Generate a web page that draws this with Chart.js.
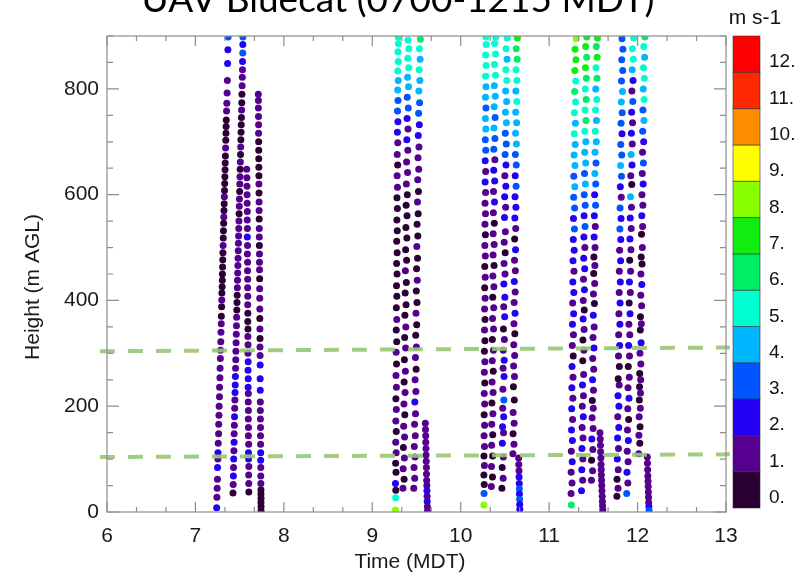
<!DOCTYPE html>
<html>
<head>
<meta charset="utf-8">
<title>UAV Bluecat wind speed</title>
<script src="https://cdn.jsdelivr.net/npm/chart.js@4/dist/chart.umd.min.js"></script>
<style>
  html, body { margin: 0; padding: 0; background: #fff; }
  #wrap { width: 808px; height: 577px; position: relative; }
</style>
</head>
<body>
<div id="wrap"><canvas id="chart" width="808" height="577"></canvas></div>
<script>
// Chart texts
const chartTitle = 'UAV Bluecat (0700-1215 MDT)';
const xTitle = 'Time (MDT)';
const yTitle = 'Height (m AGL)';
const unitLabel = 'm s-1';

// Axis ticks
const xTicks = [6, 7, 8, 9, 10, 11, 12, 13];
const yTicks = [0, 200, 400, 600, 800];

// Colour bar: one block per 1 m/s class
const barLabels = ['0.', '1.', '2.', '3.', '4.', '5.', '6.', '7.', '8.', '9.', '10.', '11.', '12.'];
const barColors = ['#2b0035', '#55008f', '#2400f5', '#0055ff', '#00b6ff', '#00ffd0', '#00ee66', '#10ee10', '#88ff00', '#ffff00', '#ff8c00', '#ff2800', '#ff0000'];

// Reference heights (m AGL) of the dashed lines, at start and end time
const refLineTimes = [5.92, 13.045];
const upperLine = [304, 311];
const lowerLine = [104, 109];

// Profiles: [time (h MDT), height (m AGL), wind speed (m/s)]
// Flight 1
const f1a = [[7.240,8,2.3],[7.243,28,1.4],[7.246,45,1.2],[7.249,62,1.6],[7.250,84,2.4],[7.254,100,1.3],[7.255,112,2.2],[7.258,130,1.4],[7.262,148,1.1],[7.263,166,1.5],[7.266,183,1.3],[7.268,200,1.6],[7.272,218,1.2],[7.273,236,1.4],[7.277,254,1.1],[7.279,272,1.5],[7.282,290,1.3],[7.284,306,1.2],[7.287,322,1.6],[7.289,340,1.4],[7.292,356,1.1],[7.293,370,0.6],[7.296,388,0.4],[7.298,401,1.2],[7.299,414,0.5],[7.302,426,0.3],[7.304,438,0.6],[7.305,450,0.7],[7.307,463,0.5],[7.309,477,0.2],[7.311,490,0.7],[7.313,504,1.3],[7.315,518,0.4],[7.317,532,0.6],[7.319,546,0.3],[7.321,558,1.2],[7.323,570,0.5],[7.325,583,0.4],[7.327,596,1.1],[7.329,608,0.4],[7.331,621,0.6],[7.333,634,0.2],[7.335,647,0.6],[7.337,660,0.8],[7.339,673,0.5],[7.341,688,1.2],[7.343,703,0.5],[7.345,716,0.3],[7.347,729,0.6],[7.349,741,0.4],[7.352,758,1.2],[7.355,773,1.3],[7.358,792,1.5],[7.361,816,1.8],[7.364,848,2.5],[7.367,874,2.8],[7.370,898,3.2]];
const f1b = [[7.425,36,0.4],[7.427,52,1.5],[7.429,68,2.3],[7.431,84,1.4],[7.433,100,2.2],[7.435,116,1.3],[7.437,132,2.4],[7.438,148,1.5],[7.440,164,1.2],[7.442,180,2.1],[7.444,196,1.4],[7.446,212,1.6],[7.448,226,2.3],[7.450,240,2.5],[7.452,256,2.2],[7.454,272,1.5],[7.456,288,1.3],[7.458,304,1.6],[7.460,320,1.2],[7.462,336,1.4],[7.464,352,1.5],[7.466,368,1.1],[7.468,382,0.5],[7.470,396,0.4],[7.472,410,0.6],[7.474,424,1.3],[7.476,438,1.5],[7.478,452,1.2],[7.480,466,1.4],[7.482,480,1.1],[7.484,494,1.3],[7.486,508,1.6],[7.488,522,1.2],[7.490,536,1.4],[7.492,550,1.3],[7.494,564,0.6],[7.496,578,1.4],[7.498,592,1.2],[7.500,606,0.5],[7.502,620,1.3],[7.504,634,1.1],[7.506,648,0.4],[7.508,662,1.3],[7.510,676,0.6],[7.512,690,1.2],[7.514,704,0.3],[7.516,718,0.5],[7.518,732,0.2],[7.520,746,0.6],[7.522,760,1.1],[7.524,774,0.4],[7.526,790,0.6],[7.528,806,1.4],[7.530,822,1.2],[7.532,836,1.6],[7.533,852,2.5],[7.535,868,3.3],[7.536,884,2.7],[7.537,898,3.4]];
const f1c = [[7.604,38,0.4],[7.603,54,1.3],[7.602,70,1.5],[7.604,86,1.2],[7.601,100,2.4],[7.600,112,2.2],[7.602,128,1.4],[7.599,144,1.3],[7.600,160,1.6],[7.598,176,1.2],[7.599,192,1.4],[7.597,208,1.5],[7.598,224,1.3],[7.596,236,2.3],[7.597,252,2.6],[7.595,268,2.2],[7.596,284,2.4],[7.594,300,1.3],[7.595,316,1.2],[7.593,332,1.5],[7.594,346,0.5],[7.592,360,0.4],[7.593,376,0.6],[7.591,392,1.3],[7.592,408,1.4],[7.590,424,1.2],[7.591,440,1.5],[7.589,456,1.3],[7.590,472,1.1],[7.588,488,1.4],[7.589,504,1.2],[7.587,520,2.3],[7.588,536,1.3],[7.586,552,1.5],[7.587,568,1.2],[7.585,584,1.4],[7.584,600,1.3],[7.583,616,1.1],[7.582,632,1.5],[7.580,648,1.2]];
const f1d = [[7.742,2,0.3],[7.742,10,0.5],[7.741,18,0.2],[7.742,26,0.4],[7.741,34,0.6],[7.741,42,0.3],[7.740,54,1.2],[7.739,68,1.4],[7.739,84,1.3],[7.738,98,2.4],[7.738,112,2.6],[7.737,128,1.5],[7.736,144,1.2],[7.736,160,1.4],[7.735,176,1.3],[7.734,192,1.6],[7.734,208,1.2],[7.733,230,2.4],[7.732,252,2.2],[7.732,278,2.5],[7.731,296,1.4],[7.730,312,1.2],[7.730,328,0.4],[7.729,346,1.3],[7.728,366,0.5],[7.728,384,1.4],[7.727,404,1.2],[7.726,422,1.5],[7.726,441,0.3],[7.725,458,1.3],[7.724,472,1.1],[7.724,488,1.4],[7.723,504,0.5],[7.722,520,1.2],[7.722,536,1.4],[7.721,554,0.4],[7.720,570,1.3],[7.720,586,1.1],[7.719,603,0.5],[7.718,620,1.2],[7.718,636,0.6],[7.717,652,0.3],[7.716,668,0.5],[7.716,684,0.2],[7.715,700,0.6],[7.714,716,1.3],[7.714,732,1.2],[7.713,748,1.5],[7.712,764,1.3],[7.712,778,1.4],[7.711,790,1.2]];
// Flight 2
const f2a = [[9.262,4,8.3],[9.264,27,5.2],[9.266,41,0.4],[9.262,54,2.6],[9.268,75,0.5],[9.264,92,0.3],[9.270,112,1.3],[9.265,132,1.2],[9.271,152,0.6],[9.266,172,1.4],[9.272,194,1.2],[9.267,214,0.5],[9.273,236,1.3],[9.268,258,1.1],[9.274,280,0.4],[9.270,302,1.2],[9.276,322,0.6],[9.271,344,0.3],[9.277,364,1.3],[9.272,386,0.2],[9.278,408,0.4],[9.274,428,0.3],[9.280,450,0.5],[9.275,470,0.2],[9.281,490,0.4],[9.276,512,0.3],[9.282,532,0.6],[9.278,552,0.2],[9.284,574,0.4],[9.279,594,0.5],[9.285,614,1.2],[9.281,636,1.3],[9.287,656,0.6],[9.282,676,1.4],[9.288,698,1.5],[9.284,718,2.6],[9.290,738,2.4],[9.285,758,3.3],[9.291,778,3.6],[9.287,798,4.2],[9.293,816,4.6],[9.288,834,5.3],[9.294,852,5.1],[9.290,870,5.5],[9.295,886,5.2],[9.292,898,5.4]];
const f2b = [[9.347,45,1.3],[9.360,62,0.4],[9.349,82,1.2],[9.363,102,1.4],[9.352,122,0.5],[9.365,142,1.3],[9.355,162,1.1],[9.368,184,0.6],[9.358,204,1.2],[9.371,226,1.4],[9.360,246,0.4],[9.374,266,1.3],[9.363,288,0.5],[9.377,310,1.2],[9.366,330,0.3],[9.379,350,1.1],[9.369,372,0.4],[9.382,392,0.2],[9.372,414,0.5],[9.385,434,0.3],[9.374,456,1.2],[9.388,476,0.4],[9.377,496,0.2],[9.391,518,0.5],[9.380,538,0.3],[9.393,560,0.6],[9.383,580,0.2],[9.396,600,0.4],[9.385,620,1.3],[9.399,642,1.2],[9.388,662,1.4],[9.402,684,1.1],[9.391,704,2.2],[9.404,724,1.5],[9.394,744,2.6],[9.407,764,3.2],[9.396,784,3.4],[9.410,804,4.3],[9.399,822,4.5],[9.412,840,5.2],[9.401,858,5.4],[9.414,876,5.1],[9.404,892,5.6]];
const f2c = [[9.469,45,1.3],[9.480,64,1.5],[9.472,84,1.2],[9.483,104,1.4],[9.475,124,1.3],[9.486,144,1.1],[9.478,166,1.2],[9.489,186,1.4],[9.481,208,2.3],[9.493,228,1.3],[9.484,250,1.2],[9.496,270,0.5],[9.488,292,1.4],[9.499,312,1.1],[9.491,334,0.4],[9.502,354,0.6],[9.494,376,1.2],[9.506,396,0.3],[9.498,418,0.5],[9.509,438,1.3],[9.501,460,0.4],[9.512,480,0.2],[9.504,502,1.1],[9.515,522,0.3],[9.507,544,0.5],[9.519,564,0.4],[9.511,586,1.2],[9.522,606,0.6],[9.514,628,1.4],[9.525,648,1.2],[9.517,670,1.5],[9.528,690,1.3],[9.520,712,2.2],[9.532,732,2.6],[9.524,754,3.4],[9.535,774,3.1],[9.527,796,4.2],[9.538,816,4.6],[9.530,836,5.1],[9.541,856,4.8],[9.533,876,5.3],[9.544,894,6.1]];
const f2d = [[9.600,168,1.3],[9.602,156,1.2],[9.604,144,1.5],[9.605,132,1.3],[9.607,120,1.4],[9.608,108,1.2],[9.610,96,1.6],[9.612,84,1.3],[9.613,72,1.2],[9.615,60,1.4],[9.617,50,1.3],[9.618,40,2.3],[9.620,30,1.4],[9.621,20,2.5],[9.623,10,1.3],[9.625,2,1.2]];
// Flight 3
const f3a = [[10.262,13,8.2],[10.264,35,3.1],[10.266,52,0.4],[10.262,70,0.3],[10.268,88,1.2],[10.263,106,0.5],[10.269,124,1.3],[10.264,144,1.1],[10.270,164,1.4],[10.265,184,0.5],[10.271,204,1.2],[10.266,224,1.3],[10.272,244,0.4],[10.267,264,1.4],[10.273,284,1.2],[10.268,304,0.3],[10.274,324,0.5],[10.269,344,1.3],[10.275,364,0.4],[10.270,384,1.2],[10.276,404,1.4],[10.271,424,0.6],[10.277,444,1.3],[10.272,464,0.5],[10.278,484,1.2],[10.273,504,1.4],[10.279,524,0.6],[10.274,544,1.3],[10.280,564,1.5],[10.275,584,1.2],[10.281,604,1.4],[10.276,624,2.3],[10.282,644,1.5],[10.277,664,2.4],[10.283,684,3.2],[10.278,704,3.5],[10.284,724,4.2],[10.279,744,4.4],[10.285,764,3.6],[10.280,784,4.3],[10.286,804,4.7],[10.281,824,5.2],[10.287,844,5.4],[10.282,864,5.3],[10.288,884,5.1],[10.284,898,5.5]];
const f3b = [[10.346,48,1.3],[10.359,66,0.4],[10.348,86,1.2],[10.361,106,0.5],[10.350,126,1.4],[10.362,146,0.3],[10.351,166,1.2],[10.364,186,1.3],[10.353,206,0.4],[10.366,226,1.1],[10.355,246,1.4],[10.368,266,0.5],[10.357,286,1.2],[10.370,306,1.3],[10.358,326,0.4],[10.371,346,1.2],[10.360,366,1.4],[10.373,386,1.3],[10.362,406,0.5],[10.375,426,1.2],[10.364,446,1.4],[10.377,466,0.4],[10.366,486,1.3],[10.378,506,1.1],[10.367,526,1.4],[10.380,546,0.6],[10.369,566,1.2],[10.382,586,2.3],[10.371,606,1.4],[10.384,626,2.2],[10.373,646,2.6],[10.386,666,1.5],[10.374,686,3.3],[10.387,706,3.4],[10.376,726,4.2],[10.389,746,3.7],[10.378,766,4.5],[10.391,786,4.3],[10.380,806,4.8],[10.393,826,5.2],[10.382,846,5.4],[10.394,866,5.1],[10.383,886,5.3],[10.396,898,5.5]];
const f3c = [[10.466,45,0.5],[10.480,64,1.3],[10.469,84,0.4],[10.482,104,1.2],[10.471,130,2.4],[10.484,150,1.3],[10.473,161,2.6],[10.486,180,2.3],[10.475,196,1.2],[10.488,212,3.1],[10.477,232,1.4],[10.490,256,2.5],[10.479,272,1.2],[10.492,287,2.3],[10.481,306,1.3],[10.494,326,1.5],[10.483,346,0.6],[10.497,369,2.2],[10.486,388,1.3],[10.499,406,2.4],[10.488,431,2.3],[10.501,450,1.2],[10.490,470,1.4],[10.503,490,0.4],[10.492,510,1.3],[10.505,530,1.5],[10.495,557,2.4],[10.508,576,1.3],[10.497,596,2.2],[10.510,616,2.5],[10.499,636,1.4],[10.512,656,2.6],[10.502,676,3.3],[10.515,696,3.2],[10.504,716,3.6],[10.517,736,4.3],[10.506,756,4.5],[10.519,776,4.1],[10.508,796,4.6],[10.521,816,5.2],[10.510,836,5.5],[10.524,856,4.7],[10.513,876,5.3],[10.526,896,5.4]];
const f3d = [[10.590,110,1.3],[10.602,128,1.2],[10.592,148,0.4],[10.604,168,1.4],[10.593,188,1.3],[10.606,212,0.3],[10.596,237,0.5],[10.608,256,1.2],[10.598,276,1.4],[10.610,296,1.3],[10.600,316,1.2],[10.612,337,0.4],[10.602,356,1.3],[10.614,376,2.2],[10.604,396,1.4],[10.616,416,1.2],[10.606,436,2.3],[10.618,456,1.3],[10.608,476,1.5],[10.620,496,2.2],[10.610,516,0.4],[10.622,536,1.3],[10.612,556,2.4],[10.624,576,2.2],[10.614,596,2.5],[10.626,616,3.2],[10.616,636,2.6],[10.628,656,3.4],[10.618,676,3.1],[10.630,696,4.2],[10.620,716,4.4],[10.632,736,4.6],[10.622,756,4.3],[10.634,776,5.2],[10.624,796,4.8],[10.636,816,5.3],[10.626,836,5.6],[10.638,856,6.2],[10.628,876,6.5],[10.640,896,7.1]];
const f3e = [[10.655,102,1.3],[10.657,90,1.4],[10.659,78,1.2],[10.660,66,2.3],[10.662,54,2.6],[10.663,44,3.2],[10.664,34,2.4],[10.666,24,3.1],[10.667,14,2.2],[10.668,5,2.5]];
// Flight 4
const f4a = [[11.251,13,6.4],[11.248,35,1.3],[11.259,55,1.2],[11.249,75,1.4],[11.261,95,2.3],[11.251,115,1.3],[11.263,135,2.2],[11.253,155,2.5],[11.265,175,1.2],[11.255,195,2.4],[11.268,215,1.3],[11.257,235,2.6],[11.270,255,1.4],[11.259,275,2.2],[11.272,295,0.5],[11.262,315,1.3],[11.275,335,1.2],[11.264,355,2.4],[11.277,375,2.3],[11.266,395,1.4],[11.279,415,2.2],[11.268,435,2.5],[11.281,455,1.3],[11.270,475,2.6],[11.283,495,2.4],[11.273,515,2.2],[11.286,535,3.3],[11.275,555,2.6],[11.288,575,3.4],[11.277,595,3.2],[11.290,615,4.3],[11.279,635,3.6],[11.292,655,4.4],[11.282,675,4.2],[11.295,695,4.6],[11.284,715,5.3],[11.297,735,4.8],[11.286,755,5.5],[11.299,775,5.2],[11.288,795,6.3],[11.301,815,5.6],[11.290,835,7.4],[11.303,855,7.2],[11.293,875,7.8],[11.306,895,8.2]];
const f4b = [[11.366,40,2.3],[11.379,60,1.4],[11.369,80,2.5],[11.381,100,1.3],[11.371,120,2.2],[11.383,140,1.5],[11.373,160,1.3],[11.386,180,2.4],[11.375,200,1.2],[11.388,220,1.4],[11.377,240,2.3],[11.390,260,1.3],[11.380,286,0.4],[11.393,306,1.2],[11.382,325,0.3],[11.395,345,1.4],[11.384,365,2.2],[11.397,382,0.5],[11.386,400,1.3],[11.399,420,2.4],[11.388,440,1.2],[11.402,460,2.6],[11.391,480,2.3],[11.404,500,1.4],[11.393,520,2.5],[11.406,540,3.2],[11.395,560,2.4],[11.408,580,3.3],[11.397,600,3.5],[11.410,620,4.2],[11.400,640,3.8],[11.413,660,4.4],[11.402,680,4.1],[11.415,700,4.7],[11.404,720,5.2],[11.417,740,6.1],[11.406,760,5.4],[11.419,780,6.6],[11.408,800,5.8],[11.421,820,6.4],[11.411,840,7.3],[11.424,860,6.9],[11.413,880,7.5],[11.426,898,7.2]];
const f4c = [[11.478,60,1.2],[11.491,78,1.4],[11.480,98,0.4],[11.494,118,1.3],[11.483,138,2.2],[11.497,158,1.3],[11.486,178,1.5],[11.499,196,1.2],[11.488,211,0.3],[11.501,230,1.4],[11.491,250,2.3],[11.504,270,1.3],[11.493,290,1.2],[11.507,310,2.4],[11.496,330,1.4],[11.509,350,1.3],[11.499,372,2.2],[11.512,394,0.4],[11.501,412,1.3],[11.515,432,1.5],[11.504,451,0.3],[11.517,466,1.4],[11.506,482,0.2],[11.519,500,1.3],[11.509,520,2.4],[11.522,540,1.2],[11.511,560,2.6],[11.525,580,3.2],[11.514,600,2.5],[11.527,620,3.4],[11.517,640,4.1],[11.530,660,3.3],[11.519,680,4.5],[11.533,700,4.3],[11.522,720,5.2],[11.535,740,4.6],[11.525,760,5.4],[11.538,780,5.1],[11.527,800,4.9],[11.541,820,6.2],[11.530,840,5.5],[11.543,860,7.1],[11.533,880,6.4],[11.546,896,7.3]];
const f4d = [[11.575,150,1.3],[11.578,138,1.2],[11.580,126,1.5],[11.582,114,1.3],[11.585,102,1.4],[11.587,90,1.2],[11.589,80,1.3],[11.591,70,1.6],[11.593,60,1.2],[11.595,50,1.4],[11.597,40,1.3],[11.600,30,1.2],[11.602,20,1.5],[11.604,12,1.3],[11.606,4,1.2]];
// Flight 5
const f5a = [[11.766,30,0.5],[11.779,45,1.3],[11.768,62,0.4],[11.781,80,1.2],[11.771,100,2.3],[11.784,120,1.4],[11.774,140,2.2],[11.787,160,2.5],[11.776,180,1.3],[11.789,200,2.4],[11.779,220,2.2],[11.792,240,1.3],[11.781,252,0.4],[11.794,275,0.3],[11.784,295,1.2],[11.797,315,2.3],[11.786,335,1.4],[11.800,355,2.2],[11.789,375,1.3],[11.802,395,2.4],[11.792,415,1.2],[11.805,435,2.3],[11.794,455,1.4],[11.808,475,2.5],[11.797,495,1.3],[11.810,515,2.6],[11.800,535,3.2],[11.813,555,2.4],[11.802,575,3.3],[11.816,595,1.4],[11.805,615,2.2],[11.818,635,3.4],[11.808,655,4.3],[11.821,675,3.2],[11.810,695,3.5],[11.824,715,2.4],[11.813,735,3.3],[11.826,755,3.1],[11.816,775,4.2],[11.829,795,4.4],[11.818,815,3.6],[11.832,835,3.2],[11.821,855,3.3],[11.834,875,3.4],[11.824,895,3.1]];
const f5b = [[11.877,35,3.2],[11.890,55,1.3],[11.880,75,2.4],[11.893,95,1.2],[11.883,115,1.4],[11.896,135,2.3],[11.886,155,1.3],[11.899,175,0.4],[11.889,195,1.2],[11.903,215,2.5],[11.892,235,1.3],[11.906,255,1.2],[11.895,275,0.3],[11.909,295,1.4],[11.899,315,2.2],[11.912,335,1.3],[11.902,355,1.2],[11.915,375,2.4],[11.905,395,0.5],[11.918,415,1.3],[11.908,435,2.3],[11.921,455,1.4],[11.911,476,0.3],[11.925,496,1.2],[11.914,516,2.6],[11.928,536,1.3],[11.917,556,2.4],[11.931,576,1.5],[11.920,596,4.2],[11.934,619,0.4],[11.923,636,1.3],[11.937,656,2.2],[11.927,676,4.3],[11.940,696,1.4],[11.930,716,2.5],[11.943,736,1.3],[11.933,756,2.4],[11.946,776,3.3],[11.936,796,1.5],[11.949,816,2.6],[11.939,836,4.4],[11.952,856,5.2],[11.942,876,5.4],[11.955,896,5.8]];
const f5c = [[12.013,110,1.3],[12.025,130,0.4],[12.015,145,1.2],[12.028,161,0.3],[12.018,180,1.4],[12.031,196,1.2],[12.020,212,0.5],[12.033,225,1.3],[12.022,237,0.2],[12.035,250,1.4],[12.024,262,0.4],[12.037,280,1.2],[12.027,300,1.3],[12.040,320,2.3],[12.031,344,0.4],[12.043,356,1.2],[12.033,369,0.3],[12.046,390,1.4],[12.036,410,1.3],[12.048,430,2.2],[12.038,450,1.2],[12.051,469,0.4],[12.041,482,0.3],[12.054,500,1.3],[12.045,525,0.5],[12.057,540,1.2],[12.048,560,2.3],[12.060,580,1.4],[12.050,600,1.2],[12.063,620,2.4],[12.053,640,1.3],[12.066,660,3.2],[12.056,680,1.5],[12.069,700,2.6],[12.058,720,3.4],[12.072,740,4.3],[12.061,760,3.3],[12.074,780,5.1],[12.064,800,4.6],[12.077,820,5.4],[12.067,840,5.2],[12.080,860,4.8],[12.070,880,5.6],[12.083,898,6.2]];
const f5d = [[12.110,104,1.3],[12.112,92,1.2],[12.114,80,1.4],[12.116,68,1.3],[12.118,58,1.5],[12.120,48,1.2],[12.122,38,1.4],[12.124,28,1.3],[12.126,18,1.2],[12.128,10,2.4],[12.130,3,3.2]];

const profiles = [f1a, f1b, f1c, f1d, f2a, f2b, f2c, f2d, f3a, f3b, f3c, f3d, f3e, f4a, f4b, f4c, f4d, f5a, f5b, f5c, f5d];

// Colour for a wind speed (one colour per 1 m/s class)
function speedColor(s) {
    const i = Math.max(0, Math.min(barColors.length - 1, Math.floor(s)));
    return barColors[i];
}

const sansFamily = 'Liberation Sans, Arial, sans-serif';
const tickFont = { family: sansFamily, size: 21 };
const frameColor = '#8e8e8e';
const textColor = '#1a1a1a';
const dashColor = 'rgba(150, 200, 115, 0.9)';

// Dashed reference lines go first so they are drawn on top of the dots
const datasets = [
    {
        type: 'line',
        data: refLineTimes.map((t, i) => ({ x: t, y: upperLine[i] })),
        borderColor: dashColor, borderWidth: 4, borderDash: [15, 13],
        pointRadius: 0, clip: false
    },
    {
        type: 'line',
        data: refLineTimes.map((t, i) => ({ x: t, y: lowerLine[i] })),
        borderColor: dashColor, borderWidth: 4, borderDash: [15, 13],
        pointRadius: 0, clip: false
    }
];
profiles.forEach(p => {
    datasets.push({
        data: p.map(r => ({ x: r[0], y: r[1], s: r[2] })),
        pointRadius: 3.5,
        pointBorderWidth: 0,
        pointBackgroundColor: ctx => speedColor(ctx.raw ? ctx.raw.s : 0)
    });
});

// Frame with inward ticks on all four sides, titles and the colour bar
const framePlugin = {
    id: 'frame',
    afterDatasetsDraw(chart) {
        const { ctx, chartArea: a, scales: { x, y } } = chart;
        ctx.save();
        ctx.strokeStyle = frameColor;
        ctx.lineWidth = 1.2;
        ctx.strokeRect(a.left, a.top, a.right - a.left, a.bottom - a.top);
        ctx.beginPath();
        for (let i = 0; i < xTicks.length; i++) {
            const px = x.getPixelForValue(xTicks[i]);
            ctx.moveTo(px, a.bottom); ctx.lineTo(px, a.bottom - 10);
            ctx.moveTo(px, a.top); ctx.lineTo(px, a.top + 10);
            if (i < xTicks.length - 1) {
                for (let k = 1; k < 3; k++) {
                    const mx = x.getPixelForValue(xTicks[i] + k / 3);
                    ctx.moveTo(mx, a.bottom); ctx.lineTo(mx, a.bottom - 5);
                    ctx.moveTo(mx, a.top); ctx.lineTo(mx, a.top + 5);
                }
            }
        }
        for (let v = 0; v <= y.max; v += 50) {
            const py = y.getPixelForValue(v);
            const len = yTicks.includes(v) ? 12 : 6;
            ctx.moveTo(a.left, py); ctx.lineTo(a.left + len, py);
            ctx.moveTo(a.right, py); ctx.lineTo(a.right - len, py);
        }
        ctx.stroke();
        ctx.restore();
    },
    afterDraw(chart) {
        const { ctx, chartArea: a } = chart;
        ctx.save();
        // title, cut off by the top edge as in the original
        ctx.fillStyle = '#000';
        ctx.font = '37px Lato, "Open Sans", sans-serif';
        ctx.textAlign = 'center';
        ctx.textBaseline = 'alphabetic';
        ctx.fillText(chartTitle, 398, 12);

        // axis titles
        ctx.fillStyle = textColor;
        ctx.font = '21px ' + sansFamily;
        ctx.textBaseline = 'middle';
        ctx.fillText(xTitle, 410, 562);
        ctx.save();
        ctx.translate(33, 287);
        ctx.rotate(-Math.PI / 2);
        ctx.fillText(yTitle, 0, 0);
        ctx.restore();

        // colour bar
        const bx = 733, bw = 27;
        const bh = (a.bottom - 4 - a.top) / barColors.length;
        for (let i = 0; i < barColors.length; i++) {
            const by = a.bottom - 4 - (i + 1) * bh;
            ctx.fillStyle = barColors[i];
            ctx.fillRect(bx, by, bw, bh);
            ctx.strokeStyle = 'rgba(40,40,40,0.55)';
            ctx.lineWidth = 1;
            ctx.strokeRect(bx, by, bw, bh);
        }
        ctx.fillStyle = '#111';
        ctx.font = '19px ' + sansFamily;
        ctx.textAlign = 'left';
        ctx.textBaseline = 'middle';
        for (let i = 0; i < barLabels.length; i++) {
            const cy = a.bottom - 4 - (i + 0.5) * bh + 8;
            ctx.fillText(barLabels[i], bx + 36, cy);
        }
        ctx.font = '21px ' + sansFamily;
        ctx.textAlign = 'center';
        ctx.textBaseline = 'alphabetic';
        ctx.fillText(unitLabel, bx + 22, 24);
        ctx.restore();
    }
};

new Chart(document.getElementById('chart'), {
    type: 'scatter',
    data: { datasets: datasets },
    options: {
        responsive: false,
        animation: false,
        events: [],
        layout: { padding: { left: 0, right: 82, top: 36, bottom: 0 } },
        plugins: { legend: { display: false }, tooltip: { enabled: false }, title: { display: false } },
        scales: {
            x: {
                type: 'linear', min: 6, max: 13,
                afterFit: s => { s.height = 65; },
                afterBuildTicks: s => { s.ticks = xTicks.map(v => ({ value: v })); },
                ticks: { font: tickFont, color: textColor, padding: 12, maxRotation: 0 },
                grid: { display: false, drawTicks: false },
                border: { display: false }
            },
            y: {
                type: 'linear', min: 0, max: 900,
                afterFit: s => { s.width = 107; },
                afterBuildTicks: s => { s.ticks = yTicks.map(v => ({ value: v })); },
                ticks: { font: tickFont, color: textColor, padding: 8 },
                grid: { display: false, drawTicks: false },
                border: { display: false }
            }
        }
    },
    plugins: [framePlugin]
});
</script>
</body>
</html>
